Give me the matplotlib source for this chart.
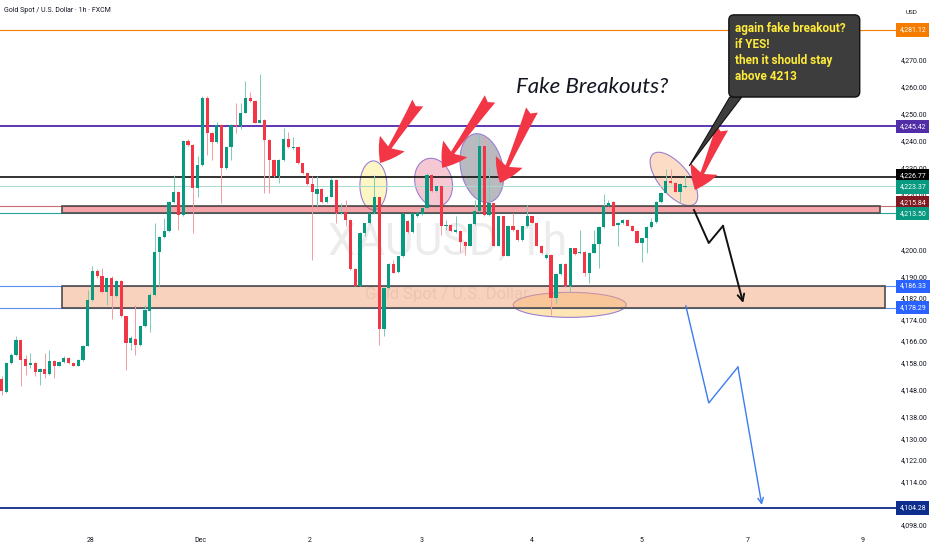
"""
plot.py - XAUUSD 1h chart with fake-breakout markup.
"""

import matplotlib
matplotlib.use("Agg")
import matplotlib.pyplot as plt
import numpy as np
from matplotlib import font_manager
from matplotlib.colors import to_rgba
from matplotlib.patches import Ellipse, Rectangle, FancyArrowPatch, FancyBboxPatch, Polygon
from matplotlib.transforms import ScaledTranslation, blended_transform_factory

# ---- hourly candles ----
opens = [
    4151.9, 4147.3, 4157.8, 4160.9, 4166.4, 4159.3, 4157.2, 4158.0, 4154.7, 4155.6,
    4153.9, 4158.7, 4156.8, 4158.4, 4159.6, 4158.0, 4156.8, 4159.0, 4164.2, 4181.2,
    4192.1, 4189.9, 4184.3, 4189.3, 4182.7, 4188.3, 4175.1, 4165.4, 4166.7, 4164.6,
    4171.4, 4177.3, 4183.1, 4198.9, 4204.4, 4206.9, 4217.6, 4221.3, 4212.7, 4240.2,
    4238.6, 4222.5, 4231.2, 4255.8, 4243.1, 4239.8, 4246.0, 4230.0, 4237.7, 4246.0,
    4245.4, 4250.5, 4255.8, 4255.0, 4246.8, 4247.8, 4240.4, 4233.0, 4226.9, 4233.0,
    4240.7, 4237.3, 4237.7, 4231.8, 4228.1, 4224.1, 4220.3, 4222.2, 4217.6, 4219.4,
    4225.6, 4213.3, 4213.9, 4210.8, 4192.6, 4186.4, 4206.1, 4209.6, 4213.3, 4219.2,
    4170.4, 4185.5, 4194.5, 4191.7, 4197.3, 4210.6, 4206.5, 4212.1, 4213.0, 4215.1,
    4227.5, 4221.7, 4223.2, 4208.4, 4209.0, 4206.5, 4206.9, 4202.8, 4201.2, 4209.3,
    4214.3, 4238.0, 4212.7, 4217.0, 4201.2, 4212.1, 4197.5, 4208.6, 4207.1, 4203.4,
    4208.4, 4212.1, 4209.8, 4201.2, 4196.6, 4197.9, 4181.8, 4190.8, 4194.5, 4186.2,
    4200.3, 4198.5, 4199.1, 4191.1, 4198.7, 4201.9, 4208.1, 4216.0, 4217.6, 4208.9,
    4209.6, 4210.8, 4208.6, 4206.9, 4202.4, 4204.0, 4208.1, 4210.2, 4217.6, 4220.9,
    4225.4, 4224.6, 4221.3, 4222.9,
]
highs = [
    4152.9, 4158.4, 4161.5, 4167.9, 4166.7, 4160.9, 4161.5, 4158.4, 4155.9, 4161.5,
    4162.7, 4159.0, 4158.7, 4160.5, 4160.0, 4158.4, 4159.3, 4164.6, 4184.9, 4193.8,
    4192.6, 4193.0, 4189.6, 4189.9, 4188.6, 4188.6, 4175.3, 4167.7, 4179.4, 4171.6,
    4179.4, 4183.7, 4209.6, 4204.7, 4211.4, 4218.0, 4227.5, 4221.7, 4240.4, 4240.7,
    4239.0, 4234.3, 4256.5, 4256.7, 4243.5, 4247.2, 4246.3, 4238.2, 4246.3, 4254.0,
    4254.0, 4262.4, 4258.3, 4255.2, 4264.8, 4248.1, 4240.7, 4233.3, 4233.3, 4244.7,
    4243.5, 4241.6, 4238.0, 4232.0, 4228.3, 4226.9, 4226.9, 4222.5, 4219.7, 4226.2,
    4225.9, 4217.0, 4218.2, 4211.1, 4193.0, 4206.5, 4209.8, 4213.5, 4227.5, 4219.4,
    4185.8, 4194.8, 4196.0, 4197.5, 4213.3, 4210.8, 4213.5, 4213.9, 4215.5, 4228.1,
    4227.7, 4223.4, 4223.4, 4210.8, 4209.3, 4212.1, 4207.1, 4203.2, 4209.6, 4218.2,
    4242.3, 4241.7, 4229.9, 4217.2, 4212.3, 4212.3, 4209.0, 4213.3, 4207.4, 4208.6,
    4216.4, 4212.3, 4210.1, 4201.5, 4198.5, 4198.1, 4191.1, 4194.8, 4194.8, 4200.6,
    4200.6, 4207.1, 4199.3, 4199.0, 4207.1, 4208.4, 4220.4, 4218.2, 4217.9, 4210.2,
    4211.1, 4211.1, 4208.9, 4207.1, 4204.3, 4208.4, 4211.4, 4217.9, 4221.2, 4229.6,
    4229.6, 4224.9, 4224.4, 4227.5,
]
lows = [
    4146.1, 4146.7, 4157.5, 4160.5, 4149.2, 4153.5, 4155.9, 4152.9, 4149.8, 4152.2,
    4153.5, 4152.2, 4156.6, 4157.8, 4157.5, 4156.6, 4156.6, 4158.8, 4164.0, 4181.0,
    4189.3, 4183.7, 4179.4, 4174.1, 4182.2, 4174.8, 4155.3, 4162.7, 4160.9, 4164.2,
    4171.1, 4169.5, 4182.7, 4186.2, 4204.0, 4206.5, 4217.2, 4207.1, 4212.3, 4238.2,
    4206.1, 4219.4, 4230.8, 4234.9, 4233.0, 4239.4, 4217.0, 4229.6, 4233.0, 4242.9,
    4244.4, 4250.3, 4254.6, 4246.6, 4246.6, 4220.7, 4220.7, 4226.6, 4224.4, 4232.8,
    4237.3, 4237.0, 4231.5, 4227.8, 4223.8, 4196.0, 4215.8, 4217.2, 4217.2, 4219.2,
    4209.6, 4213.0, 4208.4, 4192.3, 4186.2, 4186.2, 4204.7, 4209.3, 4213.0, 4164.6,
    4167.7, 4185.2, 4191.1, 4191.3, 4197.0, 4206.1, 4206.1, 4211.8, 4212.7, 4214.8,
    4221.3, 4221.3, 4205.3, 4207.1, 4206.5, 4206.1, 4199.1, 4197.9, 4201.0, 4209.0,
    4213.9, 4212.3, 4212.1, 4201.0, 4201.0, 4197.3, 4197.3, 4206.9, 4203.2, 4203.2,
    4208.1, 4209.6, 4201.0, 4198.2, 4196.3, 4175.7, 4180.0, 4190.5, 4185.9, 4184.3,
    4197.9, 4198.2, 4189.9, 4187.4, 4198.5, 4192.9, 4207.7, 4215.8, 4208.4, 4201.0,
    4209.3, 4208.4, 4206.6, 4202.2, 4195.4, 4198.5, 4207.7, 4209.8, 4217.2, 4220.7,
    4224.1, 4221.1, 4217.2, 4222.6,
]
closes = [
    4147.7, 4158.0, 4160.9, 4166.4, 4159.0, 4156.8, 4158.0, 4154.7, 4155.6, 4153.9,
    4158.7, 4156.8, 4158.4, 4159.6, 4157.8, 4156.8, 4159.0, 4164.2, 4181.2, 4192.1,
    4189.9, 4184.3, 4189.3, 4182.7, 4188.3, 4175.1, 4165.4, 4167.0, 4164.6, 4171.4,
    4177.5, 4183.1, 4198.9, 4204.4, 4206.9, 4217.6, 4221.3, 4212.7, 4240.2, 4238.6,
    4222.5, 4231.2, 4255.8, 4243.1, 4239.8, 4246.0, 4230.0, 4237.7, 4246.0, 4245.4,
    4250.5, 4255.8, 4255.0, 4246.8, 4247.8, 4240.4, 4233.0, 4226.9, 4233.0, 4240.7,
    4237.7, 4237.7, 4231.8, 4228.1, 4224.1, 4221.3, 4222.2, 4217.6, 4219.4, 4225.6,
    4213.3, 4213.9, 4210.8, 4192.6, 4186.4, 4206.1, 4209.6, 4213.3, 4219.2, 4170.4,
    4185.5, 4194.5, 4191.3, 4197.3, 4213.0, 4206.5, 4213.3, 4213.3, 4215.1, 4227.5,
    4221.7, 4223.2, 4208.6, 4209.0, 4206.9, 4207.1, 4202.8, 4201.2, 4209.3, 4214.3,
    4238.0, 4212.7, 4217.2, 4201.2, 4212.1, 4197.5, 4208.6, 4207.1, 4203.4, 4208.4,
    4212.1, 4209.8, 4201.2, 4198.5, 4197.9, 4181.8, 4190.8, 4194.5, 4186.2, 4200.3,
    4198.2, 4199.1, 4191.1, 4198.7, 4201.9, 4208.1, 4216.0, 4217.2, 4208.6, 4209.6,
    4210.8, 4208.6, 4206.9, 4202.4, 4204.0, 4208.1, 4210.2, 4217.6, 4220.9, 4225.4,
    4224.4, 4221.3, 4224.1, 4223.4,
]

# ---- axis labels ----
day_ticks = [18.5, 41.5, 64.5, 87.8, 111.0, 134.0, 156.2, 180.3]
day_labels = ["28", "Dec", "2", "3", "4", "5", "7", "9"]
price_ticks = [4270, 4260, 4250, 4240, 4230, 4220, 4200, 4190, 4182, 4174,
               4166, 4158, 4148, 4138, 4130, 4122, 4114, 4098]

# ---- horizontal levels + their price badges ----
level_prices = [4281.12, 4245.42, 4226.77, 4223.37, 4215.84, 4213.50, 4186.33, 4178.29, 4104.28]
level_line_colors = ["#f57c00", "#5e35b1", "#111111", "#a8dccf", "#c96b73",
                     "#26a69a", "#5b8def", "#5b8def", "#1e3a8a"]
level_line_widths = [0.8, 1.4, 1.2, 0.7, 0.8, 0.8, 0.8, 0.8, 1.4]
badge_colors = ["#f57c00", "#512da8", "#000000", "#089981", "#801922",
                "#089981", "#2962ff", "#2962ff", "#0d2e8c"]
badge_nudge_px = [0, 0, 1, -1, 4, -1, 0, 0, 0]  # the axis pushes crowded badges apart

# ---- markup (data coords: candle index, price) ----
red_zone = (12.6, 183.8, 4213.50, 4215.84)
blue_zone = (12.6, 184.9, 4178.29, 4186.33)
ellipses = [  # cx, cy, width px, height px, angle, face
    (77.8, 4223.6, 27, 49, 0, "#fcf6c4"),
    (90.4, 4224.7, 37, 49, 15, "#f6c8d4"),
    (100.5, 4230.0, 42, 70, 13, "#b9b9c0"),
    (140.7, 4226.0, 65, 30, -50, "#fcdcc4"),
    (118.9, 4179.4, 113, 25, 0, "#fde6b4"),
]
red_arrows = [  # tail -> tip
    ((87.1, 4254.1), (79.2, 4231.9)),
    ((102.2, 4255.6), (92.2, 4230.1)),
    ((111.0, 4251.5), (104.3, 4224.5)),
    ((150.8, 4244.9), (145.1, 4221.9)),
]
black_path_x = [144.9, 148.0, 150.97, 155.2]
black_path_y = [4214.5, 4202.3, 4208.6, 4180.1]
blue_path_x = [143.2, 148.0, 154.1, 159.1]
blue_path_y = [4179.0, 4143.1, 4156.4, 4105.4]

_installed = {f.name for f in font_manager.fontManager.ttflist}


def pick(*names):
    for n in names:
        if n in _installed:
            return n
    return "DejaVu Sans"


NARROW = pick("Liberation Sans Narrow", "Roboto")
UI = pick("Roboto", "DejaVu Sans")

fig = plt.figure(figsize=(9.32, 5.50), dpi=100)
ax = fig.add_axes([0, 20 / 550, 897 / 932, 530 / 550])
ax.set_xlim(-0.36, 187.4)
ax.set_ylim(4096.1, 4292.2)

o = np.array(opens)
h = np.array(highs)
l = np.array(lows)
c = np.array(closes)
x = np.arange(len(o))
up = c >= o
body_col = np.where(up, "#089981", "#f23645")
wick_col = np.where(up, "#7ccbb8", "#f59aa2")

# watermark
ax.text(93.4, 4202.3, "XAUUSD, 1h", fontsize=32, color="#ececec", ha="center",
        va="center", family=UI, zorder=0.5)
ax.text(93.2, 4183.1, "Gold Spot / U.S. Dollar", fontsize=12, color="#e4e4e4",
        ha="center", va="center", family=UI, zorder=0.5)

# circles around the fakeouts (sized in pixels so the tilt survives the aspect)
for cx, cy, w, hh, ang, fc in ellipses:
    tr = fig.dpi_scale_trans + ScaledTranslation(cx, cy, ax.transData)
    ax.add_patch(Ellipse((0, 0), w / 100, hh / 100, angle=ang, transform=tr,
                         fc=fc, ec="#9b7fd1", lw=0.8, zorder=2))

for p, col, lw in zip(level_prices, level_line_colors, level_line_widths):
    ax.axhline(p, color=col, lw=lw, zorder=3)

for (x0, x1, y0, y1), fc in [(red_zone, "#ec4a55"), (blue_zone, "#f4a77f")]:
    ax.add_patch(Rectangle((x0, y0), x1 - x0, y1 - y0, fc=to_rgba(fc, 0.5),
                           ec="#4d4d4d", lw=1.2, zorder=3.2))

# candles
ax.vlines(x, l, h, colors=wick_col, lw=0.7, zorder=3.9)
ax.bar(x, np.maximum(np.abs(c - o), 0.35), bottom=np.minimum(o, c), width=0.68,
       color=body_col, lw=0, zorder=4)

# red arrow markers
for tail, tip in red_arrows:
    ax.add_patch(FancyArrowPatch(tail, tip, shrinkA=0, shrinkB=0, mutation_scale=22,
                                 arrowstyle="fancy,head_length=0.75,head_width=0.95,tail_width=0.42",
                                 fc="#f23645", ec="none", zorder=6))

# projected paths
ax.plot(black_path_x[:-1], black_path_y[:-1], color="#111111", lw=1.4, zorder=6)
ax.annotate("", xy=(black_path_x[-1], black_path_y[-1]),
            xytext=(black_path_x[-2], black_path_y[-2]),
            arrowprops=dict(arrowstyle="->", color="#111111", lw=1.4,
                            shrinkA=0, shrinkB=0, mutation_scale=12), zorder=6)
ax.plot(blue_path_x[:-1], blue_path_y[:-1], color="#3d7bf0", lw=1.0, zorder=6)
ax.annotate("", xy=(blue_path_x[-1], blue_path_y[-1]),
            xytext=(blue_path_x[-2], blue_path_y[-2]),
            arrowprops=dict(arrowstyle="->", color="#3d7bf0", lw=1.0,
                            shrinkA=0, shrinkB=0, mutation_scale=10), zorder=6)

ax.text(123.5, 4260.0, "Fake Breakouts?", fontsize=16, style="italic",
        family=pick("Lato", "Open Sans"), color="#131722", ha="center", va="center", zorder=6)

# callout
ax.add_patch(Polygon([(152.4, 4256.3), (154.9, 4256.3), (143.9, 4230.8)],
                     closed=True, fc="#3d3d3d", ec="#111111", lw=0.8, zorder=7))
ax.add_patch(FancyBboxPatch((152.2, 4256.3), 27.4, 30.4,
                            boxstyle="round,pad=0,rounding_size=1.1", mutation_aspect=1.75,
                            fc="#3d3d3d", ec="#111111", lw=1.0, zorder=7.5))
ax.text(153.4, 4284.2, "again fake breakout?\nif YES!\nthen it should stay\nabove 4213",
        color="#ffeb3b", fontsize=8.5, fontweight="bold", family=NARROW,
        ha="left", va="top", linespacing=1.3, zorder=8)

# axes cosmetics
for s in ax.spines.values():
    s.set_visible(False)
ax.yaxis.tick_right()
ax.set_yticks(price_ticks)
ax.set_yticklabels([f"{v:,.2f}" for v in price_ticks])
ax.set_xticks(day_ticks)
ax.set_xticklabels(day_labels)
ax.tick_params(axis="y", length=0, pad=3, labelsize=5, labelcolor="#131722")
ax.tick_params(axis="x", length=0, pad=5, labelsize=5, labelcolor="#131722")
for t in ax.get_xticklabels() + ax.get_yticklabels():
    t.set_family(UI)

badge_tr = blended_transform_factory(fig.transFigure, ax.transData)
for p, col, dy in zip(level_prices, badge_colors, badge_nudge_px):
    tr = badge_tr + ScaledTranslation(0, dy / 100, fig.dpi_scale_trans)
    ax.text(899.5 / 932, p, f"{p:,.2f}", transform=tr, ha="left", va="center",
            fontsize=5, color="white", family=UI, clip_on=False, zorder=10,
            bbox=dict(boxstyle="square,pad=0.45", fc=col, ec="none"))

fig.text(4 / 932, 1 - 11 / 550, "Gold Spot / U.S. Dollar · 1h · FXCM", fontsize=5,
         color="#131722", va="center", family=UI)
fig.text(912 / 932, 1 - 12 / 550, "USD", fontsize=4.6, color="#131722",
         ha="center", va="center", family=UI)

fig.savefig("out.png", dpi=100)
